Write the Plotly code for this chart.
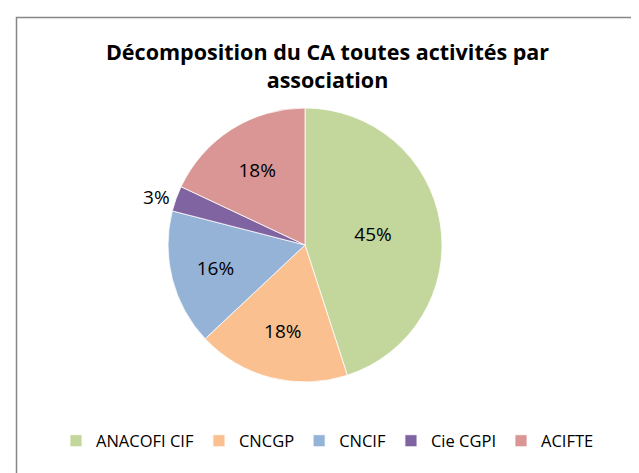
import plotly.graph_objects as go

labels = ["ANACOFI CIF", "CNCGP", "CNCIF", "Cie CGPI", "ACIFTE"]
values = [45, 18, 16, 3, 18]
colors = ["#C3D69B", "#FAC090", "#95B3D7", "#8064A2", "#D99694"]
positions = ["inside", "inside", "inside", "outside", "inside"]

W, H = 639, 473
FONT = "Open Sans"

fig = go.Figure(go.Pie(
    labels=labels, values=values, sort=False, direction="clockwise", rotation=0,
    marker=dict(colors=colors, line=dict(color="white", width=0.8)),
    textinfo="percent", texttemplate="%{percent:.0%}",
    textposition=positions, insidetextorientation="horizontal",
    textfont=dict(family=FONT, size=19, color="black"),
    domain=dict(x=[160 / W, 434 / W], y=[1 - 374 / H, 1 - 100 / H]),
    hoverinfo="label+percent",
))

fig.update_layout(
    width=W, height=H,
    margin=dict(l=0, r=0, t=0, b=0),
    paper_bgcolor="white", plot_bgcolor="white",
    title=dict(text="<b>Décomposition du CA toutes activités par<br>association</b>",
               x=0.5, xanchor="center", y=1 - 52 / H, yanchor="middle",
               font=dict(family=FONT, size=21.5, color="black")),
    legend=dict(orientation="h", x=0.5, xanchor="center", y=1 - 433 / H, yanchor="middle",
                font=dict(family=FONT, size=16.5, color="black"), itemwidth=30,
                traceorder="normal"),
    shapes=[dict(type="rect", xref="paper", yref="paper",
                 x0=8.5 / W, x1=1.1, y0=-0.1, y1=1 - 9.5 / H,
                 line=dict(color="#868686", width=1.5), fillcolor="rgba(0,0,0,0)")],
)

fig.write_html("out.html")
